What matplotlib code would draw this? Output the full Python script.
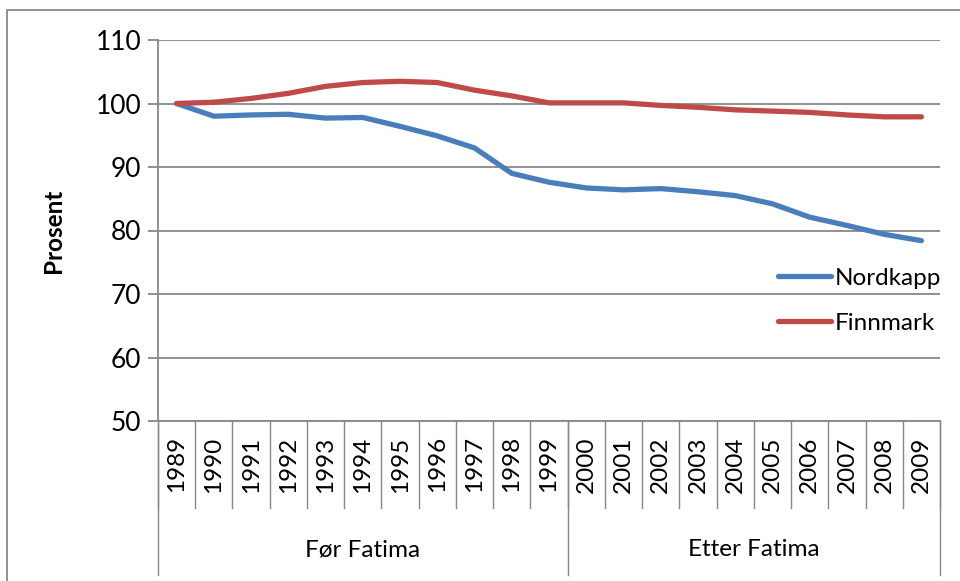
import matplotlib.pyplot as plt
import matplotlib.transforms as mtransforms
from matplotlib.patches import Rectangle

plt.rcParams['font.family'] = ['Lato', 'DejaVu Sans']

years = [str(y) for y in range(1989, 2010)]
nordkapp = [100.0, 98.0, 98.2, 98.3, 97.7, 97.8, 96.4, 94.9, 93.0, 89.0, 87.6,
            86.7, 86.4, 86.6, 86.1, 85.5, 84.2, 82.1, 80.8, 79.4, 78.4]
finnmark = [100.0, 100.2, 100.8, 101.6, 102.7, 103.3, 103.5, 103.3, 102.1, 101.2, 100.1,
            100.1, 100.1, 99.7, 99.4, 99.0, 98.8, 98.6, 98.2, 97.9, 97.9]
groups = ["Før Fatima", "Etter Fatima"]
group_sizes = [11, 10]

grid_color = "#888888"

fig = plt.figure(figsize=(9.6, 5.81), dpi=100)
ax = fig.add_axes([158 / 960, 1 - 421 / 581, 782 / 960, 381 / 581])

x = list(range(len(years)))
ax.plot(x, nordkapp, color="#4A7EBB", lw=3.8, solid_capstyle="round", label="Nordkapp")
ax.plot(x, finnmark, color="#BE4B48", lw=3.8, solid_capstyle="round", label="Finnmark")

ax.set_xlim(-0.5, len(years) - 0.5)
ax.set_ylim(50, 110)
ax.set_yticks(range(50, 111, 10))
ax.yaxis.grid(True, color=grid_color, lw=1.3)
ax.set_axisbelow(True)

for s in ["top", "right"]:
    ax.spines[s].set_visible(False)
for s in ["left", "bottom"]:
    ax.spines[s].set_color(grid_color)
    ax.spines[s].set_linewidth(1.3)

ax.tick_params(axis="y", length=7, color=grid_color, width=1.3, labelsize=19, pad=5)
ax.set_xticks(x)
ax.set_xticklabels(years, rotation=90, fontsize=17.5)
ax.tick_params(axis="x", length=0, pad=11)

ax.set_ylabel("Prosent", fontsize=17.5, fontweight="bold", labelpad=22)

# category separators and group separators under the axis
trans = mtransforms.blended_transform_factory(ax.transData, ax.transAxes)
for i in range(len(years) + 1):
    ax.plot([i - 0.5, i - 0.5], [0, -87 / 381], color=grid_color, lw=1.0,
            transform=trans, clip_on=False)
start = -0.5
for name, size in zip(groups, group_sizes):
    ax.plot([start, start], [0, -154 / 381], color=grid_color, lw=1.0,
            transform=trans, clip_on=False)
    ax.text(start + size / 2, -129 / 381, name, transform=trans,
            ha="center", va="center", fontsize=17.5)
    start += size
ax.plot([start, start], [0, -154 / 381], color=grid_color, lw=1.0,
        transform=trans, clip_on=False)

ax.legend(loc="upper left", bbox_to_anchor=(768 / 960, 1 - 258 / 581),
          bbox_transform=fig.transFigure, frameon=False, fontsize=17.5,
          handlelength=2.2, handletextpad=0.15, labelspacing=0.98, borderaxespad=0)

fig.patches.append(Rectangle((7 / 960, -0.1), 1.2, 1.1 - 10 / 581, transform=fig.transFigure,
                             fill=False, edgecolor=grid_color, lw=1.3))

fig.savefig("out.png", dpi=100)
